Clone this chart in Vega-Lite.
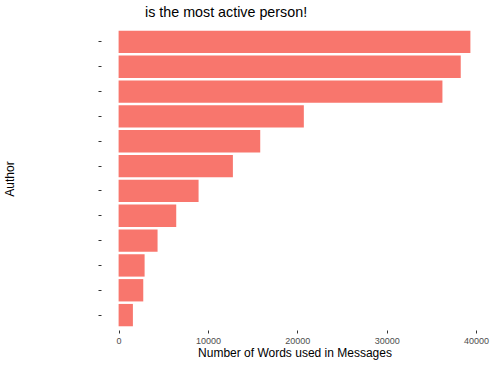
{
  "$schema": "https://vega.github.io/schema/vega-lite/v6.json",
  "autosize": {"type": "none"},
  "width": 387,
  "height": 303,
  "padding": {"left": 101, "top": 27, "right": 7, "bottom": 35},
  "background": "white",
  "config": {"view": {"stroke": null}, "font": "Liberation Sans"},
  "title": {"text": "is the most active person!", "anchor": "start", "frame": "group", "dx": 44, "fontSize": 14.3, "fontWeight": "normal", "color": "black", "offset": 7, "font": "Liberation Sans"},
  "data": {"values": [
    {"author": "A01", "words": 39370},
    {"author": "A02", "words": 38290},
    {"author": "A03", "words": 36240},
    {"author": "A04", "words": 20730},
    {"author": "A05", "words": 15850},
    {"author": "A06", "words": 12790},
    {"author": "A07", "words": 8950},
    {"author": "A08", "words": 6450},
    {"author": "A09", "words": 4360},
    {"author": "A10", "words": 2910},
    {"author": "A11", "words": 2760},
    {"author": "A12", "words": 1600}
  ]},
  "mark": {"type": "bar", "color": "#F8766D"},
  "encoding": {
    "y": {"field": "author", "type": "nominal", "sort": {"field": "words", "order": "descending"},
      "scale": {"paddingInner": 0.1, "paddingOuter": 0.15},
      "axis": {"title": "Author", "labels": false, "domain": false, "ticks": true, "tickSize": 3, "tickColor": "#333333", "grid": false,
        "titleX": -92, "titleY": 151.5, "titleBaseline": "middle", "titleFontSize": 12, "titleFontWeight": "normal", "titleColor": "black", "titleAngle": -90}},
    "x": {"field": "words", "type": "quantitative",
      "scale": {"domain": [-1970, 41340], "nice": false, "zero": false},
      "axis": {"title": "Number of Words used in Messages", "values": [0, 10000, 20000, 30000, 40000], "format": "d", "domain": false, "grid": false,
        "tickSize": 3, "tickColor": "#333333", "labelFontSize": 9, "labelColor": "#4D4D4D", "labelPadding": 3,
        "titleFontSize": 12, "titleFontWeight": "normal", "titleColor": "black", "titlePadding": 2}},
    "x2": {"datum": 0}
  }
}
